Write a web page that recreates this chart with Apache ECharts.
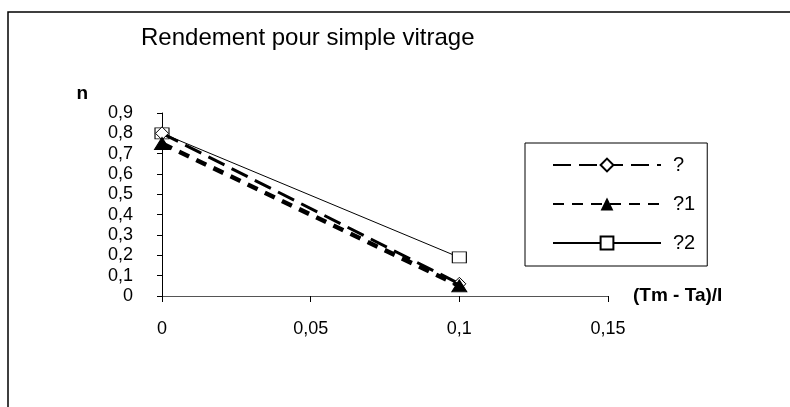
<!DOCTYPE html>
<html>
<head>
<meta charset="utf-8">
<script src="https://cdn.jsdelivr.net/npm/echarts@6/dist/echarts.min.js"></script>
<style>
  html, body { margin: 0; padding: 0; background: #fff; }
  #chart { width: 790px; height: 407px; }
</style>
</head>
<body>
<div id="chart"></div>
<script>
// Rendement pour simple vitrage

// données
const seriesNames = ['?', '?1', '?2'];
const xValues = [0, 0.1];
const etaA = [0.80, 0.06];   // losange, tirets longs
const etaB = [0.75, 0.05];   // triangle, tirets courts épais
const etaC = [0.80, 0.19];   // carré, trait fin

function toPoints(ys) {
    return xValues.map((x, i) => [x, ys[i]]);
}

// 0.05 -> "0,05"
function virgule(v) {
    return String(+v.toFixed(2)).replace('.', ',');
}

const chart = echarts.init(document.getElementById('chart'));

const option = {
    animation: false,
    backgroundColor: '#fff',
    textStyle: { fontFamily: 'Arial, "Liberation Sans", sans-serif', color: '#000' },
    graphic: [
        {
            // cadre du graphique (coupé à droite et en bas)
            type: 'rect',
            shape: { x: 8, y: 12, width: 900, height: 500 },
            style: { fill: 'none', stroke: '#000', lineWidth: 1.5 }
        }
    ],
    title: {
        text: 'Rendement pour simple vitrage',
        left: 141,
        top: 26,
        padding: 0,
        textStyle: { fontSize: 24, fontWeight: 'normal', color: '#000' }
    },
    legend: {
        orient: 'vertical',
        left: 525,
        top: 143,
        padding: [12, 12, 13, 27],
        itemWidth: 108,
        itemHeight: 16,
        itemGap: 19,
        borderColor: '#000',
        borderWidth: 1,
        data: seriesNames,
        textStyle: { fontSize: 20, color: '#000', padding: [0, 0, 0, 7] }
    },
    grid: {
        left: 162,
        right: 182,
        top: 113,
        bottom: 111
    },
    xAxis: {
        type: 'value',
        min: 0,
        max: 0.15,
        interval: 0.05,
        name: '(Tm - Ta)/I',
        nameLocation: 'end',
        nameGap: 25,
        nameTextStyle: { fontSize: 19, fontWeight: 'bold', color: '#000', align: 'left', verticalAlign: 'middle' },
        axisLine: { lineStyle: { color: '#555', width: 1 } },
        axisTick: { show: true, length: 6, lineStyle: { color: '#000' } },
        axisLabel: { fontSize: 18, color: '#000', margin: 24, formatter: virgule },
        splitLine: { show: false }
    },
    yAxis: {
        type: 'value',
        min: 0,
        max: 0.9,
        interval: 0.1,
        name: 'n',
        nameLocation: 'end',
        nameGap: 10,
        nameTextStyle: { fontSize: 19, fontWeight: 'bold', color: '#000', align: 'right', padding: [0, 74, 0, 0] },
        axisLine: { show: true, lineStyle: { color: '#000', width: 1 } },
        axisTick: { show: true, length: 5, lineStyle: { color: '#000' } },
        axisLabel: { fontSize: 18, color: '#000', margin: 29, formatter: virgule },
        splitLine: { show: false }
    },
    series: [
        {
            name: seriesNames[0],
            type: 'line',
            data: toPoints(etaA),
            symbol: 'diamond',
            symbolSize: 13,
            itemStyle: { color: '#fff', borderColor: '#000', borderWidth: 1 },
            lineStyle: { color: '#000', width: 3, type: [18, 8] },
            z: 3
        },
        {
            name: seriesNames[1],
            type: 'line',
            data: toPoints(etaB),
            symbol: 'triangle',
            symbolSize: [15, 12],
            itemStyle: { color: '#000', borderColor: '#000' },
            lineStyle: { color: '#000', width: 4.5, type: [11, 8] },
            z: 4
        },
        {
            name: seriesNames[2],
            type: 'line',
            data: toPoints(etaC),
            symbol: 'rect',
            symbolSize: [14, 11],
            itemStyle: { color: '#fff', borderColor: '#000', borderWidth: 1 },
            lineStyle: { color: '#000', width: 1 },
            z: 2
        }
    ]
};

chart.setOption(option);
</script>
</body>
</html>
